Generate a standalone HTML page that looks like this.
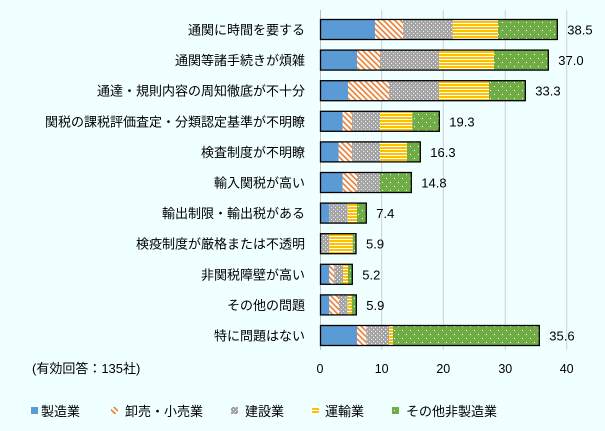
<!DOCTYPE html>
<html><head><meta charset="utf-8"><style>
html,body{margin:0;padding:0;background:#F0FFFF;}
svg{display:block;font-family:"Liberation Sans","Noto Sans CJK JP",sans-serif;}
</style></head><body>
<svg width="605" height="431" viewBox="0 0 605 431" xmlns="http://www.w3.org/2000/svg">
<defs>
<pattern id="pO" width="4" height="4" patternUnits="userSpaceOnUse" patternTransform="rotate(-45)">
<rect width="4" height="4" fill="#fff"/><rect width="1.6" height="4" fill="#ED7D31"/></pattern>
<pattern id="pG" width="4" height="4" patternUnits="userSpaceOnUse">
<rect width="4" height="4" fill="#A5A5A5"/><rect x="1" y="1" width="1" height="1" fill="#eee"/><rect x="3" y="3" width="1" height="1" fill="#eee"/></pattern>
<pattern id="pY" width="4" height="3" patternUnits="userSpaceOnUse">
<rect width="4" height="3" fill="#fff"/><rect width="4" height="2" fill="#FFC000"/></pattern>
<pattern id="pV" width="8" height="8" patternUnits="userSpaceOnUse">
<rect width="8" height="8" fill="#70AD47"/><rect x="2" y="2" width="1" height="1" fill="#fff"/><rect x="6" y="6" width="1" height="1" fill="#fff"/></pattern>
</defs>
<g stroke="#D0D0D0" stroke-width="1">
<line x1="381.7" y1="10" x2="381.7" y2="350"/><line x1="443.3" y1="10" x2="443.3" y2="350"/>
<line x1="505.3" y1="10" x2="505.3" y2="350"/><line x1="566.7" y1="10" x2="566.7" y2="350"/>
</g>
<line x1="320.5" y1="10" x2="320.5" y2="350" stroke="#BFBFBF"/>
<g id="bars"></g>
<g font-size="13" fill="#000" text-anchor="end" id="cats"></g>
<g font-size="13" fill="#000" id="vals"></g>
<g font-size="12.5" fill="#000" text-anchor="middle">
<text x="320" y="373">0</text><text x="381.7" y="373">10</text><text x="443.3" y="373">20</text><text x="505.3" y="373">30</text><text x="566.7" y="373">40</text>
</g>
<text x="32" y="373" font-size="13" fill="#000">(有効回答：135社)</text>
<g font-size="13" fill="#000">
<rect x="31" y="407" width="7" height="7" fill="#5B9BD5"/><text x="41" y="416">製造業</text>
<rect x="111" y="407" width="7" height="7" fill="url(#pO)"/><text x="125" y="416">卸売・小売業</text>
<rect x="231" y="407" width="7" height="7" fill="url(#pG)"/><text x="245" y="416">建設業</text>
<rect x="312" y="407" width="7" height="7" fill="url(#pY)"/><text x="325" y="416">運輸業</text>
<rect x="392" y="407" width="7" height="7" fill="url(#pV)"/><text x="406" y="416">その他非製造業</text>
</g>
<script>
var rows=[
["通関に時間を要する","38.5",[375,403,452.7,498,557.3]],
["通関等諸手続きが煩雑","37.0",[357,380,439,494,548.3]],
["通達・規則内容の周知徹底が不十分","33.3",[348,389,439,489,525.3]],
["関税の課税評価査定・分類認定基準が不明瞭","19.3",[342.7,352,380,412.3,439.3]],
["検査制度が不明瞭","16.3",[338.7,352,380,407,420.3]],
["輸入関税が高い","14.8",[342.7,357,380,380,411.3]],
["輸出制限・輸出税がある","7.4",[329.3,329.3,347.7,357,366.3]],
["検疫制度が厳格または不透明","5.9",[320.5,320.5,329.3,352.7,356]],
["非関税障壁が高い","5.2",[329.3,334.3,343,348,352.3]],
["その他の問題","5.9",[329.3,339,347.7,351.7,356.3]],
["特に問題はない","35.6",[357,366.3,389,393,539.3]]];
var fills=["#5B9BD5","url(#pO)","url(#pG)","url(#pY)","url(#pV)"];
var ns="http://www.w3.org/2000/svg",b=document.getElementById("bars"),c=document.getElementById("cats"),v=document.getElementById("vals");
function el(t,a,p){var e=document.createElementNS(ns,t);for(var k in a)e.setAttribute(k,a[k]);p.appendChild(e);return e;}
rows.forEach(function(r,i){
 var y=19.5+i*30.6,h=20,x=320.5;
 r[2].forEach(function(e,j){if(e>x){el("rect",{x:x,y:y,width:e-x,height:h,fill:fills[j]},b);x=e;}});
 el("rect",{x:320.5,y:y,width:r[2][4]-320.5,height:h,fill:"none",stroke:"#000","stroke-width":1.3},b);
 el("text",{x:305,y:y+15},c).textContent=r[0];
 el("text",{x:r[2][4]+10,y:y+15},v).textContent=r[1];
});
</script>
</svg>
</body></html>
